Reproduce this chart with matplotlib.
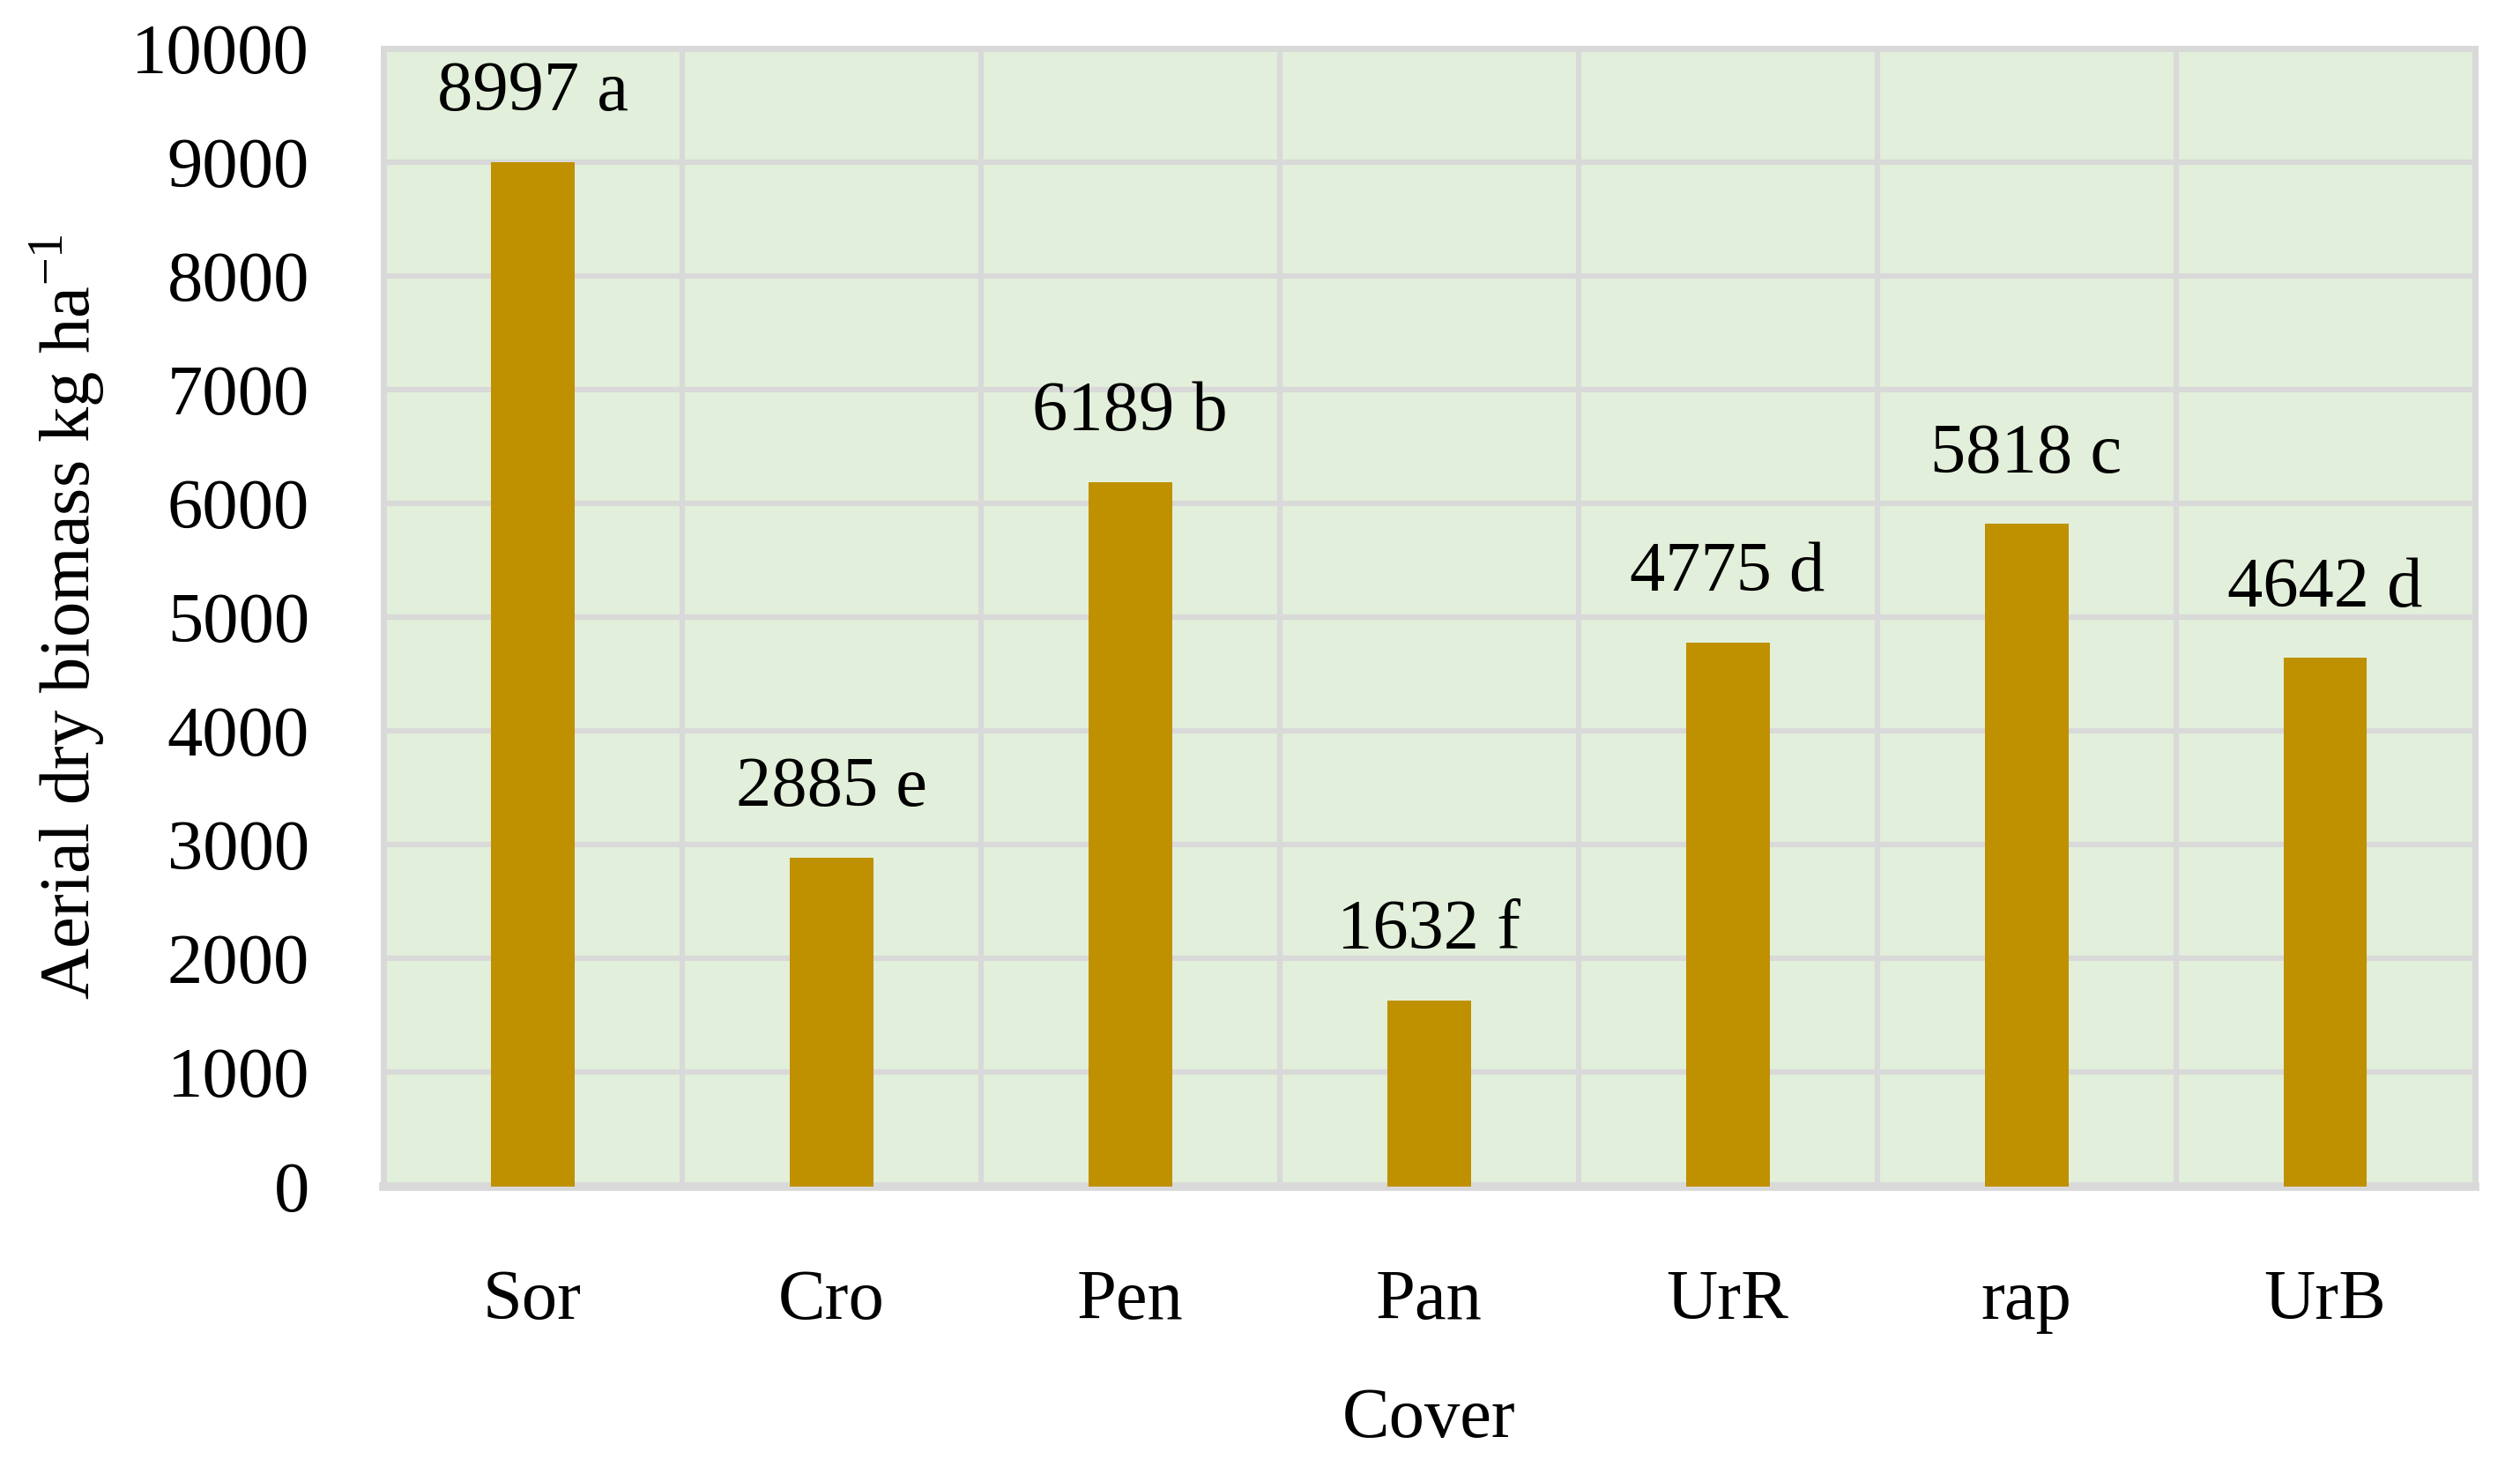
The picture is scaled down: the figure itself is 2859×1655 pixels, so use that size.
import matplotlib
matplotlib.use("Agg")
import matplotlib.pyplot as plt

# data
covers = ["Sor", "Cro", "Pen", "Pan", "UrR", "rap", "UrB"]
biomass = [8997, 2885, 6189, 1632, 4775, 5818, 4642]
letters = ["a", "e", "b", "f", "d", "c", "d"]
yticks = [0, 1000, 2000, 3000, 4000, 5000, 6000, 7000, 8000, 9000, 10000]

plt.rcParams["font.family"] = ["Liberation Serif", "DejaVu Serif"]
plt.rcParams["mathtext.fontset"] = "custom"
plt.rcParams["mathtext.rm"] = "Liberation Serif"

FS = 29

fig = plt.figure(figsize=(14.295, 8.275), dpi=200)
ax = fig.add_axes([0.152, 0.187, 0.830, 0.780])

ax.set_facecolor("#E2EFDA")
x = list(range(len(covers)))
bars = ax.bar(x, biomass, width=0.28, color="#BF9000", zorder=3)

for xi, v, l in zip(x, biomass, letters):
    ax.annotate(f"{v} {l}", (xi, v), xytext=(0, 15), textcoords="offset points",
                ha="center", va="bottom", fontsize=FS)

ax.set_xlim(-0.5, len(covers) - 0.5)
ax.set_ylim(0, 10000)
ax.set_yticks(yticks)
ax.set_yticklabels([str(t) for t in yticks])
ax.set_xticks(x)
ax.set_xticklabels(covers)

# vertical grid lines sit between categories
ax.set_xticks([i + 0.5 for i in x[:-1]], minor=True)
ax.grid(axis="y", which="major", color="#D9D9D9", linewidth=2.2, zorder=1)
ax.grid(axis="x", which="minor", color="#D9D9D9", linewidth=2.2, zorder=1)
ax.grid(axis="x", which="major", visible=False)

for s in ax.spines.values():
    s.set_color("#D9D9D9")
    s.set_linewidth(2.5)
ax.spines["bottom"].set_linewidth(3.5)

ax.tick_params(axis="both", which="both", length=0, labelsize=FS)
ax.tick_params(axis="y", pad=30)
ax.tick_params(axis="x", pad=34)

ax.set_xlabel("Cover", fontsize=FS, labelpad=22)
ax.set_ylabel("Aerial dry biomass kg ha$^{\\mathrm{-1}}$", fontsize=FS, labelpad=10)

fig.savefig("out.png", dpi=200)
